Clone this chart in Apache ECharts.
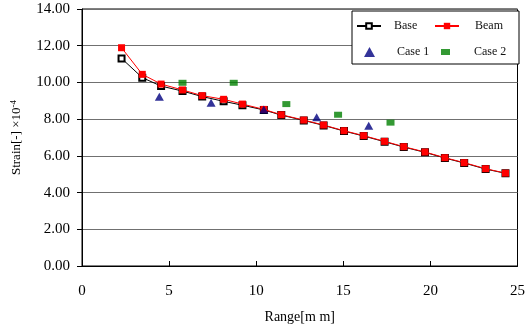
<!DOCTYPE html>
<html>
<head>
<meta charset="utf-8">
<script src="https://cdn.jsdelivr.net/npm/echarts@6/dist/echarts.min.js"></script>
<style>html,body{margin:0;padding:0;background:#fff}#c{width:528px;height:329px}</style>
</head>
<body>
<div id="c"></div>
<script>
var xTicks = [0, 5, 10, 15, 20, 25];
var yTicks = [0, 2, 4, 6, 8, 10, 12, 14];
var rangeX = [2.27, 3.46, 4.54, 5.77, 6.90, 8.13, 9.21, 10.44, 11.44, 12.73, 13.87, 15.04, 16.17, 17.37, 18.47, 19.69, 20.83, 21.94, 23.17, 24.31];
var baseY = [11.31, 10.26, 9.80, 9.53, 9.23, 8.97, 8.76, 8.50, 8.22, 7.93, 7.66, 7.35, 7.08, 6.77, 6.48, 6.19, 5.88, 5.61, 5.28, 5.05];
var beamY = [11.89, 10.44, 9.91, 9.59, 9.28, 9.08, 8.82, 8.53, 8.24, 7.95, 7.68, 7.37, 7.10, 6.79, 6.50, 6.21, 5.90, 5.63, 5.30, 5.06];
var case1X = [4.44, 7.41, 10.44, 13.47, 16.46];
var case1Y = [9.22, 8.89, 8.53, 8.10, 7.64];
var case2X = [5.77, 8.71, 11.73, 14.70, 17.71];
var case2Y = [9.98, 9.98, 8.82, 8.24, 7.81];

function zip(a, b) { return a.map(function (v, i) { return [v, b[i]]; }); }
var FONT = "'Liberation Serif', 'DejaVu Serif', serif";

var chart = echarts.init(document.getElementById('c'));
var legendBase = {padding: 0, orient: 'horizontal', textStyle: {fontFamily: FONT, fontSize: 12, color: '#111'}};
chart.setOption({
  animation: false,
  backgroundColor: '#fff',
  grid: {left: 82, top: 9, right: 6, bottom: 63, show: true, borderColor: '#000', borderWidth: 1},
  xAxis: {
    type: 'value', min: xTicks[0], max: xTicks[xTicks.length - 1], interval: 5,
    name: 'Range[m m]', nameLocation: 'middle', nameGap: 44,
    nameTextStyle: {fontFamily: FONT, fontSize: 14, color: '#000'},
    axisLine: {lineStyle: {color: '#000', width: 1}},
    axisTick: {inside: true, length: 5, lineStyle: {color: '#000'}},
    axisLabel: {margin: 18, fontFamily: FONT, fontSize: 15, color: '#000'},
    splitLine: {show: false}
  },
  yAxis: {
    type: 'value', min: yTicks[0], max: yTicks[yTicks.length - 1], interval: 2,
    name: '{n|Strain[-] ×10}{s|-4}', nameLocation: 'middle', nameGap: 58, nameRotate: 90,
    nameTextStyle: {rich: {
      n: {fontFamily: FONT, fontSize: 13, color: '#000'},
      s: {fontFamily: FONT, fontSize: 9, color: '#000', verticalAlign: 'top', padding: [0, 0, 6, 0]}
    }},
    axisLine: {show: true, lineStyle: {color: '#000', width: 1}},
    axisTick: {show: true, inside: false, length: 5, lineStyle: {color: '#000'}},
    axisLabel: {margin: 12, fontFamily: FONT, fontSize: 15, color: '#000',
      formatter: function (v) { return v.toFixed(2); }},
    splitLine: {show: true, lineStyle: {color: '#707070', width: 1}}
  },
  graphic: [{type: 'rect', z: 3, shape: {x: 352, y: 11, width: 167, height: 53},
    style: {fill: '#fff', stroke: '#000', lineWidth: 1}}],
  legend: [
    Object.assign({}, legendBase, {data: ['Base'], left: 356, top: 20, itemWidth: 24, itemHeight: 7,
      textStyle: Object.assign({}, legendBase.textStyle, {padding: [0, 0, 0, 8]})}),
    Object.assign({}, legendBase, {data: ['Beam'], left: 434, top: 20, itemWidth: 24, itemHeight: 8,
      textStyle: Object.assign({}, legendBase.textStyle, {padding: [0, 0, 0, 11]})}),
    Object.assign({}, legendBase, {data: ['Case 1'], left: 364, top: 46, itemWidth: 11, itemHeight: 10,
      textStyle: Object.assign({}, legendBase.textStyle, {padding: [0, 0, 0, 17]})}),
    Object.assign({}, legendBase, {data: ['Case 2'], left: 441, top: 46, itemWidth: 9, itemHeight: 6,
      textStyle: Object.assign({}, legendBase.textStyle, {padding: [0, 0, 0, 19]})})
  ],
  series: [
    {name: 'Base', type: 'line', data: zip(rangeX, baseY), symbol: 'emptyRect', symbolSize: 6,
      itemStyle: {color: '#000', borderColor: '#000', borderWidth: 1},
      lineStyle: {color: '#000', width: 1}, z: 2},
    {name: 'Beam', type: 'line', data: zip(rangeX, beamY), symbol: 'rect', symbolSize: 7,
      itemStyle: {color: '#ff0000'}, lineStyle: {color: '#ff0000', width: 1}, z: 3},
    {name: 'Case 1', type: 'scatter', data: zip(case1X, case1Y), symbol: 'triangle', symbolSize: [9, 8],
      itemStyle: {color: '#000080'}, z: 4},
    {name: 'Case 2', type: 'scatter', data: zip(case2X, case2Y), symbol: 'rect', symbolSize: [8, 6],
      itemStyle: {color: '#008000'}, z: 4}
  ]
});
</script>
</body>
</html>
